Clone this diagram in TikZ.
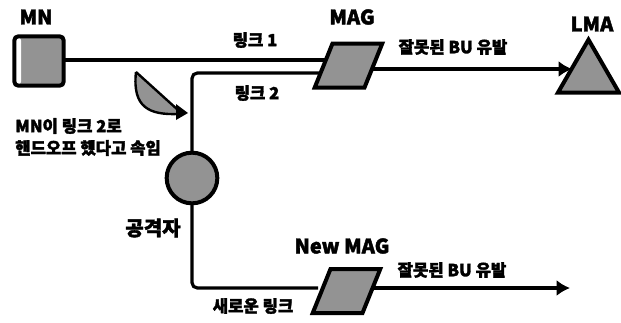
\documentclass[tikz,border=0pt]{standalone}
\usepackage{fontspec}
\setmainfont{Noto Sans CJK KR}[BoldFeatures={FakeBold=2}]
\usetikzlibrary{arrows.meta, shapes.geometric}

\begin{document}
\begin{tikzpicture}[x=0.75pt, y=-0.75pt,
				>={Latex[length=10pt,width=12pt]},   %arrow tips
				device/.style={draw, line width=3pt, fill=gray!85, inner sep=0pt, outer sep=0pt},
				magbox/.style={device, trapezium, trapezium left angle=68, trapezium right angle=112},
				link/.style={line width=2.4pt, rounded corners=4pt},
				bigtext/.style={font=\fontsize{15}{15}\selectfont\bfseries, inner sep=0pt},
				smalltext/.style={font=\fontsize{12.5}{14}\selectfont\bfseries, inner sep=0pt}]
				%picture size
				\useasboundingbox (0,0) rectangle (621,322);
				%devices
				\node[device, rounded corners=3pt, minimum size=37pt, path picture={\fill[white] (path picture bounding box.south west) rectangle ([xshift=5pt]path picture bounding box.north west);}] (mn) at (39,61) {};
				\node[magbox] (mag) at (348.5,65.5) {\phantom{\rule{24pt}{33pt}}};
				\node[magbox] (newmag) at (346.5,291) {\phantom{\rule{24pt}{33pt}}};
				\node[device, circle, minimum size=38pt] (attacker) at (192,178) {};
				\node[device, regular polygon, regular polygon sides=3, minimum size=53pt] (lma) at (588.5,75) {};
				% ends of the links
				\coordinate (maglinka) at (325,60);
				\coordinate (maglinkb) at (320,73);
				\coordinate (newmaglink) at (318,288);
				\coordinate (lmatip) at (572,69);
				\coordinate (newmagtip) at (570,288);
				% links
				\draw[link] (mn.east |- maglinka) -- (maglinka);
				\draw[link] (attacker.north) |- (maglinkb);
				\draw[link] (attacker.south) |- (newmaglink);
				\draw[link, ->] (lmatip -| mag.east) -- (lmatip);
				\draw[link, ->] (newmagtip -| newmag.east) -- (newmagtip);
				% handover arrow
				\draw[line width=1.8pt, fill=gray!85, line join=round] (136,72) -- (178,110) -- (178,114) .. controls (150,115) and (132,108) .. (136,72);
				\fill (176,104) -- (188,113) -- (176,120) -- cycle;
				% labels
				\node[bigtext] (mnlabel) at (36,17) {MN};
				\node[bigtext] (maglabel) at (352,17) {MAG};
				\node[bigtext] (lmalabel) at (592,24) {LMA};
				\node[bigtext] (newmaglabel) at (342,246) {New MAG};
				\node[bigtext] (attackerlabel) at (153,228) {공격자};
				\node[smalltext] (linkalabel) at (255,40) {링크 1};
				\node[smalltext] (linkblabel) at (257,93) {링크 2};
				\node[smalltext] (newlinklabel) at (253,306) {새로운 링크};
				\node[smalltext] (bulabel) at (453,47) {잘못된 BU 유발};
				\node[smalltext] (newbulabel) at (452,270) {잘못된 BU 유발};
				\node[smalltext, anchor=west] (fakelabel) at (15,126) {MN이 링크 2로};
				\node[smalltext, anchor=west] (fakelabelb) at (15,148) {핸드오프 했다고 속임};
\end{tikzpicture}
\end{document}
